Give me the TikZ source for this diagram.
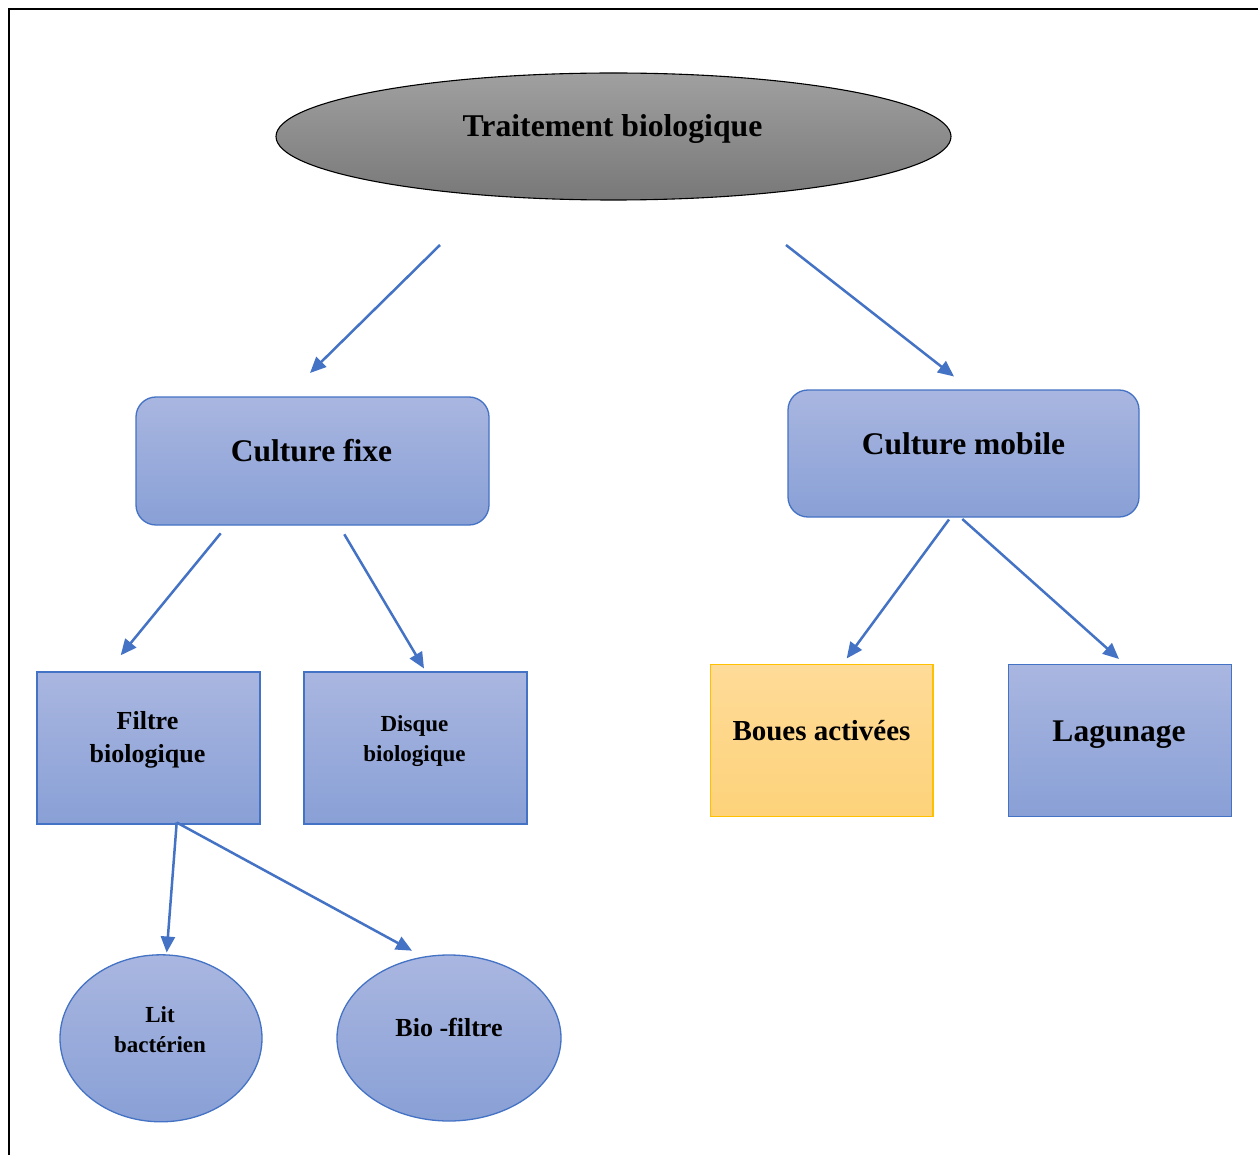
\documentclass[tikz,border=0pt]{standalone}
\usepackage{fontspec}
\setmainfont{Liberation Serif}
\usetikzlibrary{arrows.meta,shapes.geometric}

\definecolor{edgeblue}{RGB}{68,114,196}
\definecolor{boxtop}{RGB}{169,182,224}
\definecolor{boxbot}{RGB}{137,160,214}
\definecolor{graytop}{RGB}{160,160,160}
\definecolor{graybot}{RGB}{120,120,120}
\definecolor{sunedge}{RGB}{255,192,0}
\definecolor{suntop}{RGB}{254,219,152}
\definecolor{sunbot}{RGB}{253,210,122}

\tikzset{
  bluebox/.style={rectangle, inner sep=0pt, top color=boxtop, bottom color=boxbot,
    draw=edgeblue, line width=1.3pt},
  roundbox/.style={bluebox, rounded corners=20pt},
  blueoval/.style={ellipse, inner sep=0pt, top color=boxtop, bottom color=boxbot,
    draw=edgeblue, line width=1.3pt},
  sunbox/.style={rectangle, inner sep=0pt, top color=suntop, bottom color=sunbot,
    draw=sunedge, line width=1.3pt},
  greyoval/.style={ellipse, inner sep=0pt, top color=graytop, bottom color=graybot,
    draw=black, line width=1.1pt},
  lbl/.style={anchor=base, inner sep=0pt, font=\bfseries},
  arr/.style={draw=edgeblue, line width=2.5pt, -{Triangle[length=16pt,width=14pt]}},
}

\begin{document}
\begin{tikzpicture}[x=1pt, y=-1pt]
  \useasboundingbox (0,0) rectangle (1258,1155);
  \fill[white] (0,0) rectangle (1258,1155);

  % outer frame (open to the right and bottom)
  \draw[line width=2.2pt] (9.3,1160) -- (9.3,9.3) -- (1262,9.3);

  % shapes
  \node[greyoval, minimum width=675pt, minimum height=127pt] (root) at (613.5,136.5) {};
  \node[roundbox, minimum width=353pt, minimum height=128pt] (fixe) at (312.5,461) {};
  \node[roundbox, minimum width=351pt, minimum height=127pt] (mobile) at (963.5,453.5) {};
  \node[bluebox, minimum width=223pt, minimum height=152pt] (filtre) at (148.5,748) {};
  \node[bluebox, minimum width=223pt, minimum height=152pt] (disque) at (415.5,748) {};
  \node[sunbox, minimum width=222.5pt, minimum height=152pt] (boues) at (821.8,740.5) {};
  \node[bluebox, minimum width=223pt, minimum height=151.5pt] (lagunage) at (1119.8,740.4) {};
  \node[blueoval, minimum width=202pt, minimum height=167pt] (lit) at (161,1038.3) {};
  \node[blueoval, minimum width=224pt, minimum height=166pt] (bio) at (449,1038) {};

  % labels
  \node[lbl, font=\bfseries\fontsize{31.7}{38}\selectfont] (root-t) at (612.5,137) {Traitement biologique};
  \node[lbl, font=\bfseries\fontsize{31.5}{38}\selectfont] (fixe-t) at (311.5,461) {Culture fixe};
  \node[lbl, font=\bfseries\fontsize{31.5}{38}\selectfont] (mobile-t) at (963.5,454) {Culture mobile};
  \node[lbl, font=\bfseries\fontsize{26}{32.5}\selectfont] (filtre-t) at (147.5,762)
    {\begin{tabular}[b]{@{}c@{}}Filtre\\biologique\end{tabular}};
  \node[lbl, font=\bfseries\fontsize{23}{30}\selectfont] (disque-t) at (414.5,761)
    {\begin{tabular}[b]{@{}c@{}}Disque\\biologique\end{tabular}};
  \node[lbl, font=\bfseries\fontsize{29}{35}\selectfont] (boues-t) at (821.5,740) {Boues activées};
  \node[lbl, font=\bfseries\fontsize{31.5}{38}\selectfont] (lagunage-t) at (1119,741) {Lagunage};
  \node[lbl, font=\bfseries\fontsize{23}{30}\selectfont] (lit-t) at (160,1052)
    {\begin{tabular}[b]{@{}c@{}}Lit\\bactérien\end{tabular}};
  \node[lbl, font=\bfseries\fontsize{26}{31}\selectfont] (bio-t) at (449,1036.5) {Bio -filtre};

  % free ends of the connectors
  \coordinate (a1s) at (440,245);   \coordinate (a1e) at (310,373);
  \coordinate (a2s) at (786,245);   \coordinate (a2e) at (954,376.5);
  \coordinate (a3s) at (220.7,533.3); \coordinate (a3e) at (120.7,655.3);
  \coordinate (a4s) at (344.3,534.3); \coordinate (a4e) at (424,668.5);
  \coordinate (a5s) at (949,519.5); \coordinate (a5e) at (846.7,658.5);
  \coordinate (a6s) at (962.3,519); \coordinate (a6e) at (1119,659);
  \coordinate (a7s) at (176.7,822.5); \coordinate (a7e) at (166.7,952.5);
  \coordinate (a8e) at (412,950.7);

  % connectors
  \draw[arr] (a1s) -- (a1e);
  \draw[arr] (a2s) -- (a2e);
  \draw[arr] (a3s) -- (a3e);
  \draw[arr] (a4s) -- (a4e);
  \draw[arr] (a5s) -- (a5e);
  \draw[arr] (a6s) -- (a6e);
  \draw[arr] (a7s) -- (a7e);
  \draw[arr] (a7s) -- (a8e);
\end{tikzpicture}
\end{document}
